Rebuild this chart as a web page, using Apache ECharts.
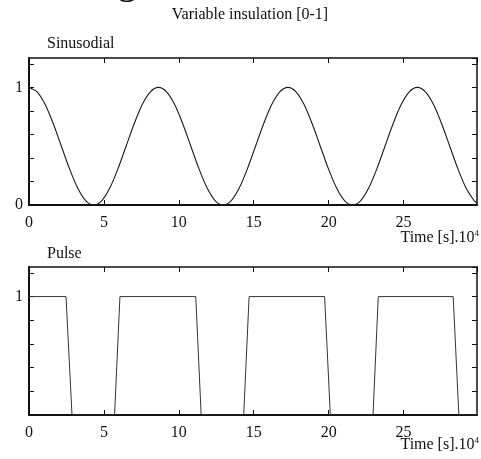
<!DOCTYPE html>
<html>
<head>
<meta charset="utf-8">
<script src="https://cdn.jsdelivr.net/npm/echarts@6/dist/echarts.min.js"></script>
<style>
html,body{margin:0;padding:0;background:#fff;}
#chart{width:481px;height:459px;}
</style>
</head>
<body>
<div id="chart"></div>
<script>
// ---- data (time in units of 10^4 s) ----
var sineTime = [0, 0.54, 1.08, 1.62, 2.16, 2.70, 3.24, 3.78, 4.32, 4.86, 5.40, 5.94, 6.48, 7.02, 7.56, 8.10,
  8.64, 9.18, 9.72, 10.26, 10.80, 11.34, 11.88, 12.42, 12.96, 13.50, 14.04, 14.58, 15.12, 15.66, 16.20, 16.74,
  17.28, 17.82, 18.36, 18.90, 19.44, 19.98, 20.52, 21.06, 21.60, 22.14, 22.68, 23.22, 23.76, 24.30, 24.84, 25.38,
  25.92, 26.46, 27.00, 27.54, 28.08, 28.62, 29.16, 29.70, 29.90];
var sineValue = [1, 0.962, 0.854, 0.691, 0.5, 0.309, 0.146, 0.038, 0, 0.038, 0.146, 0.309, 0.5, 0.691, 0.854, 0.962,
  1, 0.962, 0.854, 0.691, 0.5, 0.309, 0.146, 0.038, 0, 0.038, 0.146, 0.309, 0.5, 0.691, 0.854, 0.962,
  1, 0.962, 0.854, 0.691, 0.5, 0.309, 0.146, 0.038, 0, 0.038, 0.146, 0.309, 0.5, 0.691, 0.854, 0.962,
  1, 0.962, 0.854, 0.691, 0.5, 0.309, 0.146, 0.038, 0.015];
var pulseTime = [0, 2.47, 2.87, 5.71, 6.07, 11.13, 11.49, 14.33, 14.69, 19.73, 20.11, 22.96, 23.31, 28.31, 28.69, 29.9];
var pulseValue = [1, 1, 0, 0, 1, 1, 0, 0, 1, 1, 0, 0, 1, 1, 0, 0];
var xTickLabels = ['0', '5', '10', '15', '20', '25'];
var yTickLabelsSine = ['0', '1'];
var yTickLabelsPulse = ['1'];
var titleText = 'Variable insulation [0-1]';
var panelTitles = ['Sinusodial', 'Pulse'];
var xAxisName = 'Time [s].10';

function zip(a, b) { return a.map(function (v, i) { return [v, b[i]]; }); }

var FONT = '"Liberation Serif", "DejaVu Serif", serif';
var XMAX = 29.9, YMAX = 1.25;

function xLabelFmt(v) {
  var s = String(Math.round(v));
  return (Math.abs(v - Math.round(v)) < 1e-6 && xTickLabels.indexOf(s) >= 0) ? s : '';
}
function yLabelFmtFor(labels) {
  return function (v) {
    for (var i = 0; i < labels.length; i++) {
      if (Math.abs(v - Number(labels[i])) < 1e-6) return labels[i];
    }
    return '';
  };
}

function xAx(grid, pos) {
  var main = pos === 'bottom';
  return {
    type: 'value', gridIndex: grid, position: pos, min: 0, max: XMAX, interval: 5,
    axisLine: { show: true, onZero: false, lineStyle: { color: '#111', width: main ? 2 : 1.5 } },
    axisTick: { show: true, inside: true, length: 5, lineStyle: { color: '#111', width: 1 } },
    axisLabel: { show: main, formatter: xLabelFmt, color: '#111', fontFamily: FONT, fontSize: 16, margin: 10,
      showMaxLabel: false },
    splitLine: { show: false }
  };
}
function yAx(grid, pos, labels) {
  var main = pos === 'left';
  return {
    type: 'value', gridIndex: grid, position: pos, min: 0, max: YMAX, interval: 0.2,
    axisLine: { show: true, onZero: false, lineStyle: { color: '#111', width: main ? 2 : 1.5 } },
    axisTick: { show: true, inside: true, length: 5, lineStyle: { color: '#111', width: 1 } },
    axisLabel: { show: main, formatter: yLabelFmtFor(labels || []), color: '#111', fontFamily: FONT, fontSize: 16,
      margin: 6, showMaxLabel: false },
    splitLine: { show: false }
  };
}

var chart = echarts.init(document.getElementById('chart'), null, { renderer: 'canvas' });
chart.setOption({
  animation: false,
  backgroundColor: '#fff',
  grid: [
    { left: 29, top: 58, width: 448, height: 147 },
    { left: 29, top: 267, width: 448, height: 148 }
  ],
  xAxis: [xAx(0, 'bottom'), xAx(0, 'top'), xAx(1, 'bottom'), xAx(1, 'top')],
  yAxis: [yAx(0, 'left', yTickLabelsSine), yAx(0, 'right'), yAx(1, 'left', yTickLabelsPulse), yAx(1, 'right')],
  series: [
    { type: 'line', xAxisIndex: 0, yAxisIndex: 0, data: zip(sineTime, sineValue), smooth: 0.3,
      showSymbol: false, lineStyle: { color: '#1a1a1a', width: 1.1 } },
    { type: 'line', xAxisIndex: 2, yAxisIndex: 2, data: zip(pulseTime, pulseValue),
      showSymbol: false, lineStyle: { color: '#333', width: 1 } }
  ],
  graphic: [
    { type: 'text', left: 117, top: -38, style: { text: 'g', font: '40px ' + FONT, fill: '#111' } },
    { type: 'text', x: 250, y: 15, style: { text: titleText, font: '16px ' + FONT, fill: '#111',
      textAlign: 'center', textVerticalAlign: 'middle' } },
    { type: 'text', x: 47, y: 44, style: { text: panelTitles[0], font: '16px ' + FONT, fill: '#111',
      textAlign: 'left', textVerticalAlign: 'middle' } },
    { type: 'text', x: 47, y: 254, style: { text: panelTitles[1], font: '16px ' + FONT, fill: '#111',
      textAlign: 'left', textVerticalAlign: 'middle' } },
    { type: 'text', x: 479, y: 238, style: { text: xAxisName + '{s|4}', font: '16px ' + FONT, fill: '#111',
      align: 'right', verticalAlign: 'middle',
      rich: { s: { fontSize: 9, fontFamily: FONT, verticalAlign: 'top', padding: [0, 0, 8, 0] } } } },
    { type: 'text', x: 479, y: 445, style: { text: xAxisName + '{s|4}', font: '16px ' + FONT, fill: '#111',
      align: 'right', verticalAlign: 'middle',
      rich: { s: { fontSize: 9, fontFamily: FONT, verticalAlign: 'top', padding: [0, 0, 8, 0] } } } }
  ]
});
</script>
</body>
</html>
